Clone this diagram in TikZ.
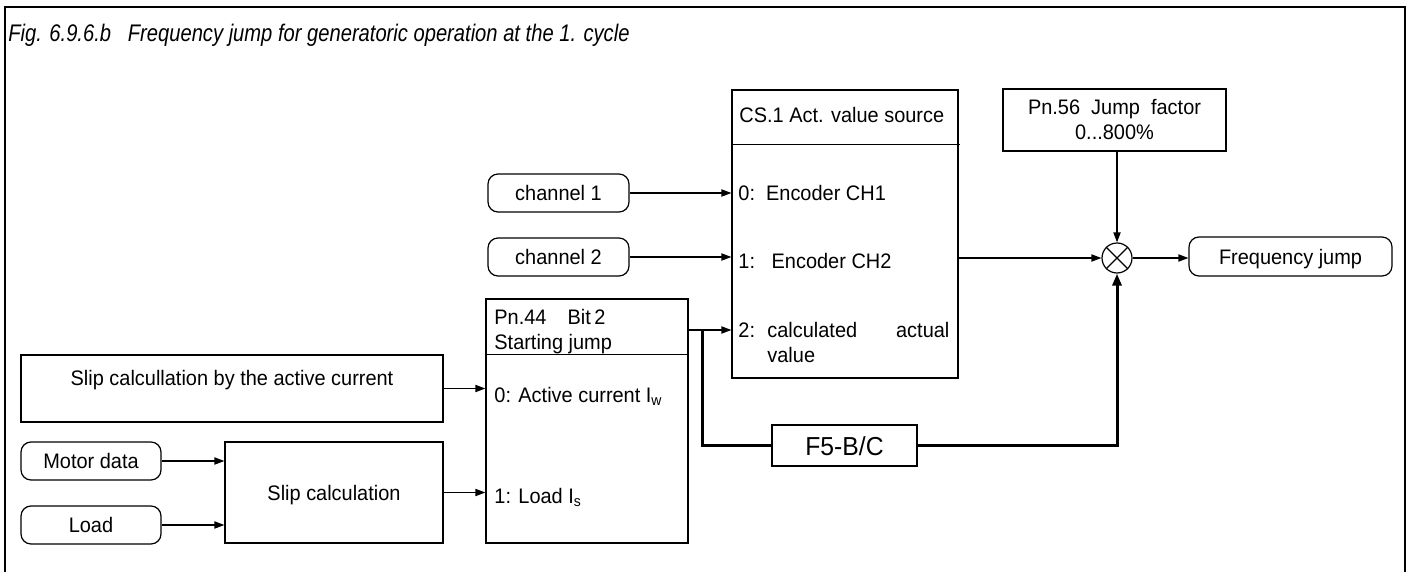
\documentclass[tikz,border=0pt]{standalone}
\usepackage{fontspec}
\setmainfont{Liberation Sans}[FakeStretch=0.95]
\newfontfamily\titlefont{Liberation Sans}[FakeStretch=0.84]
\usetikzlibrary{arrows.meta}

\begin{document}
\begin{tikzpicture}[x=0.5pt,y=-0.5pt,font=\fontsize{10.5}{12.5}\selectfont,
        box/.style={draw,line width=0.6pt,inner sep=0pt},
        onebox/.style={box,text height=7.5pt,text depth=0pt},
        rbox/.style={onebox,rounded corners=5pt},
        lbl/.style={anchor=base west,inner sep=0pt},
        sig/.style={line width=0.6pt,-{Triangle[length=5pt,width=3.6pt]}},
        bus/.style={line width=1.5pt}]
        \useasboundingbox (0,0) rectangle (1411,572);
        \draw[line width=1.1pt] (5,572) -- (5,7) -- (1405,7) -- (1405,572);
        \node[lbl,font=\titlefont\fontsize{12}{14}\selectfont\itshape] (title) at (8,42)
            {Fig. 6.9.6.b\ \ \ Frequency jump for generatoric operation at the 1. cycle};

        % selector of the actual value source
        \node[box,minimum width=113pt,minimum height=144pt] (cs) at (845,234) {};
        \draw[line width=0.6pt] (cs.north west) ++(0,55) -- ++(229,0);
        \node[lbl] (cshead) at (739,123) {CS.1 Act. value source};
        \node[lbl] (cs0) at (738,200) {0:\ \ Encoder CH1};
        \node[lbl] (cs1) at (738,268) {1:\ \ \ Encoder CH2};
        \node[lbl] (cs2) at (738,337) {2:};
        \node[lbl] (cs2a) at (767,337) {\makebox[91pt][s]{calculated actual}};
        \node[lbl] (cs2b) at (767,362) {value};

        \node[rbox,minimum width=70.5pt,minimum height=19pt] (ch1) at (558.5,193) {channel 1};
        \node[rbox,minimum width=70.5pt,minimum height=19pt] (ch2) at (558.5,257) {channel 2};
        \draw[sig] (ch1.east) -- (ch1.east -| cs.west);
        \draw[sig] (ch2.east) -- (ch2.east -| cs.west);

        % jump factor and output
        \node[box,minimum width=111.5pt,minimum height=31pt,align=center] (p56) at (1114.5,120)
            {Pn.56\ \ Jump\ \ factor\\0...800\%};
        \node[circle,draw,line width=0.6pt,minimum size=15pt,inner sep=0pt] (mul) at (1117,258) {};
        \draw[line width=0.6pt] (mul.north east) -- (mul.south west) (mul.north west) -- (mul.south east);
        \node[rbox,minimum width=101.5pt,minimum height=19.5pt] (fj) at (1290.5,256.5) {Frequency jump};
        \draw[sig] (cs.east |- mul) -- (mul.west);
        \draw[sig] (p56.south -| mul) -- (mul.north);
        \draw[sig] (mul.east) -- (mul.east -| fj.west);

        % starting jump selector
        \node[box,minimum width=101pt,minimum height=122pt] (p44) at (587,421) {};
        \draw[line width=0.6pt] (p44.north west) ++(0,56) coordinate (p44hl) -- (p44hl -| p44.east);
        \node[lbl] (p44a) at (494,324) {Pn.44\quad Bit\,2};
        \node[lbl] (p44b) at (494,349) {Starting jump};
        \node[lbl] (p440) at (494,402) {0: Active current I\textsubscript{w}};
        \node[lbl] (p441) at (494,503) {1: Load I\textsubscript{s}};

        \node[box,minimum width=211pt,minimum height=33.5pt,text height=7.5pt,text depth=11pt] (slipact) at (232,388.5)
            {Slip calcullation by the active current};
        \node[rbox,minimum width=70pt,minimum height=19pt] (motor) at (91,461) {Motor data};
        \node[rbox,minimum width=70pt,minimum height=19pt] (load) at (91,525) {Load};
        \node[onebox,minimum width=109pt,minimum height=50.5pt] (slip) at (334,492.5) {Slip calculation};
        \draw[sig] (slipact.east) -- (slipact.east -| p44.west);
        \draw[sig] (motor.east) -- (motor.east -| slip.west);
        \draw[sig] (load.east) -- (load.east -| slip.west);
        \draw[sig] (slip.east) -- (slip.east -| p44.west);

        % path over F5-B/C
        \node[onebox,line width=1pt,minimum width=72.5pt,minimum height=20.5pt,
            font=\fontsize{13}{15}\selectfont,text height=9.5pt] (f5) at (844.5,445.5) {F5-B/C};
        \coordinate (br) at (702,330);
        \draw[sig] (br -| p44.east) -- (br -| cs.west);
        \draw[bus] (br) |- (f5.west);
        \draw[bus,-{Triangle[length=6pt,width=4.5pt]}] (f5.east) -| (mul.south);
    \end{tikzpicture}
\end{document}
